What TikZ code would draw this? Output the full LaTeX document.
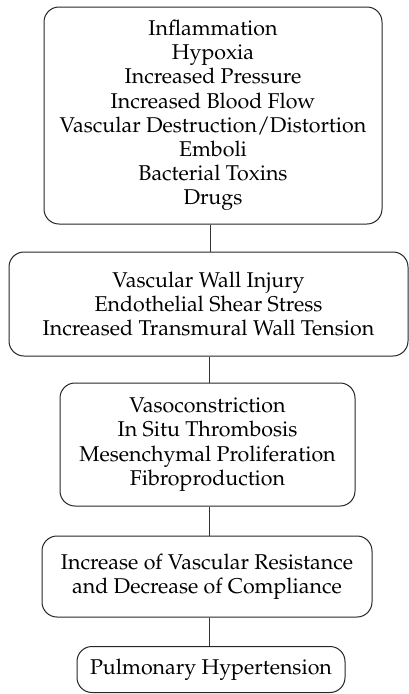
\documentclass[tikz,border=0pt]{standalone}
\usepackage[T1]{fontenc}
\usepackage{mathpazo}
\begin{document}
\begin{tikzpicture}[x=1pt,y=-1pt,
  box/.style={draw=black!85, line width=1pt, rounded corners=15pt, align=center,
    font=\fontsize{21.4}{24.2}\selectfont, inner sep=0pt},
  link/.style={draw=black!80, line width=1pt}]
\useasboundingbox (0,0) rectangle (409,694);
\node[box, minimum width=338pt, minimum height=217pt] (b1) at (213,115.5)
  {Inflammation\\Hypoxia\\Increased Pressure\\Increased Blood Flow\\Vascular Destruction/Distortion\\Emboli\\Bacterial Toxins\\Drugs};
\node[box, minimum width=399pt, minimum height=104pt] (b2) at (208.5,304)
  {Vascular Wall Injury\\Endothelial Shear Stress\\Increased Transmural Wall Tension};
\node[box, minimum width=295pt, minimum height=123pt] (b3) at (207.5,444.5)
  {Vasoconstriction\\In Situ Thrombosis\\Mesenchymal Proliferation\\Fibroproduction};
\node[box, minimum width=330pt, minimum height=81pt] (b4) at (207,576.5)
  {Increase of Vascular Resistance\\and Decrease of Compliance};
\node[box, minimum width=268pt, minimum height=46pt] (b5) at (211,669.5)
  {Pulmonary Hypertension};
\draw[link] ([xshift=-3pt]b1.south) -- ([xshift=-3pt]b1.south |- b2.north);
\draw[link] ([xshift=0.5pt]b2.south) -- ([xshift=0.5pt]b2.south |- b3.north);
\draw[link] ([xshift=1.5pt]b3.south) -- ([xshift=1.5pt]b3.south |- b4.north);
\draw[link] ([xshift=2pt]b4.south) -- ([xshift=2pt]b4.south |- b5.north);
\end{tikzpicture}
\end{document}
